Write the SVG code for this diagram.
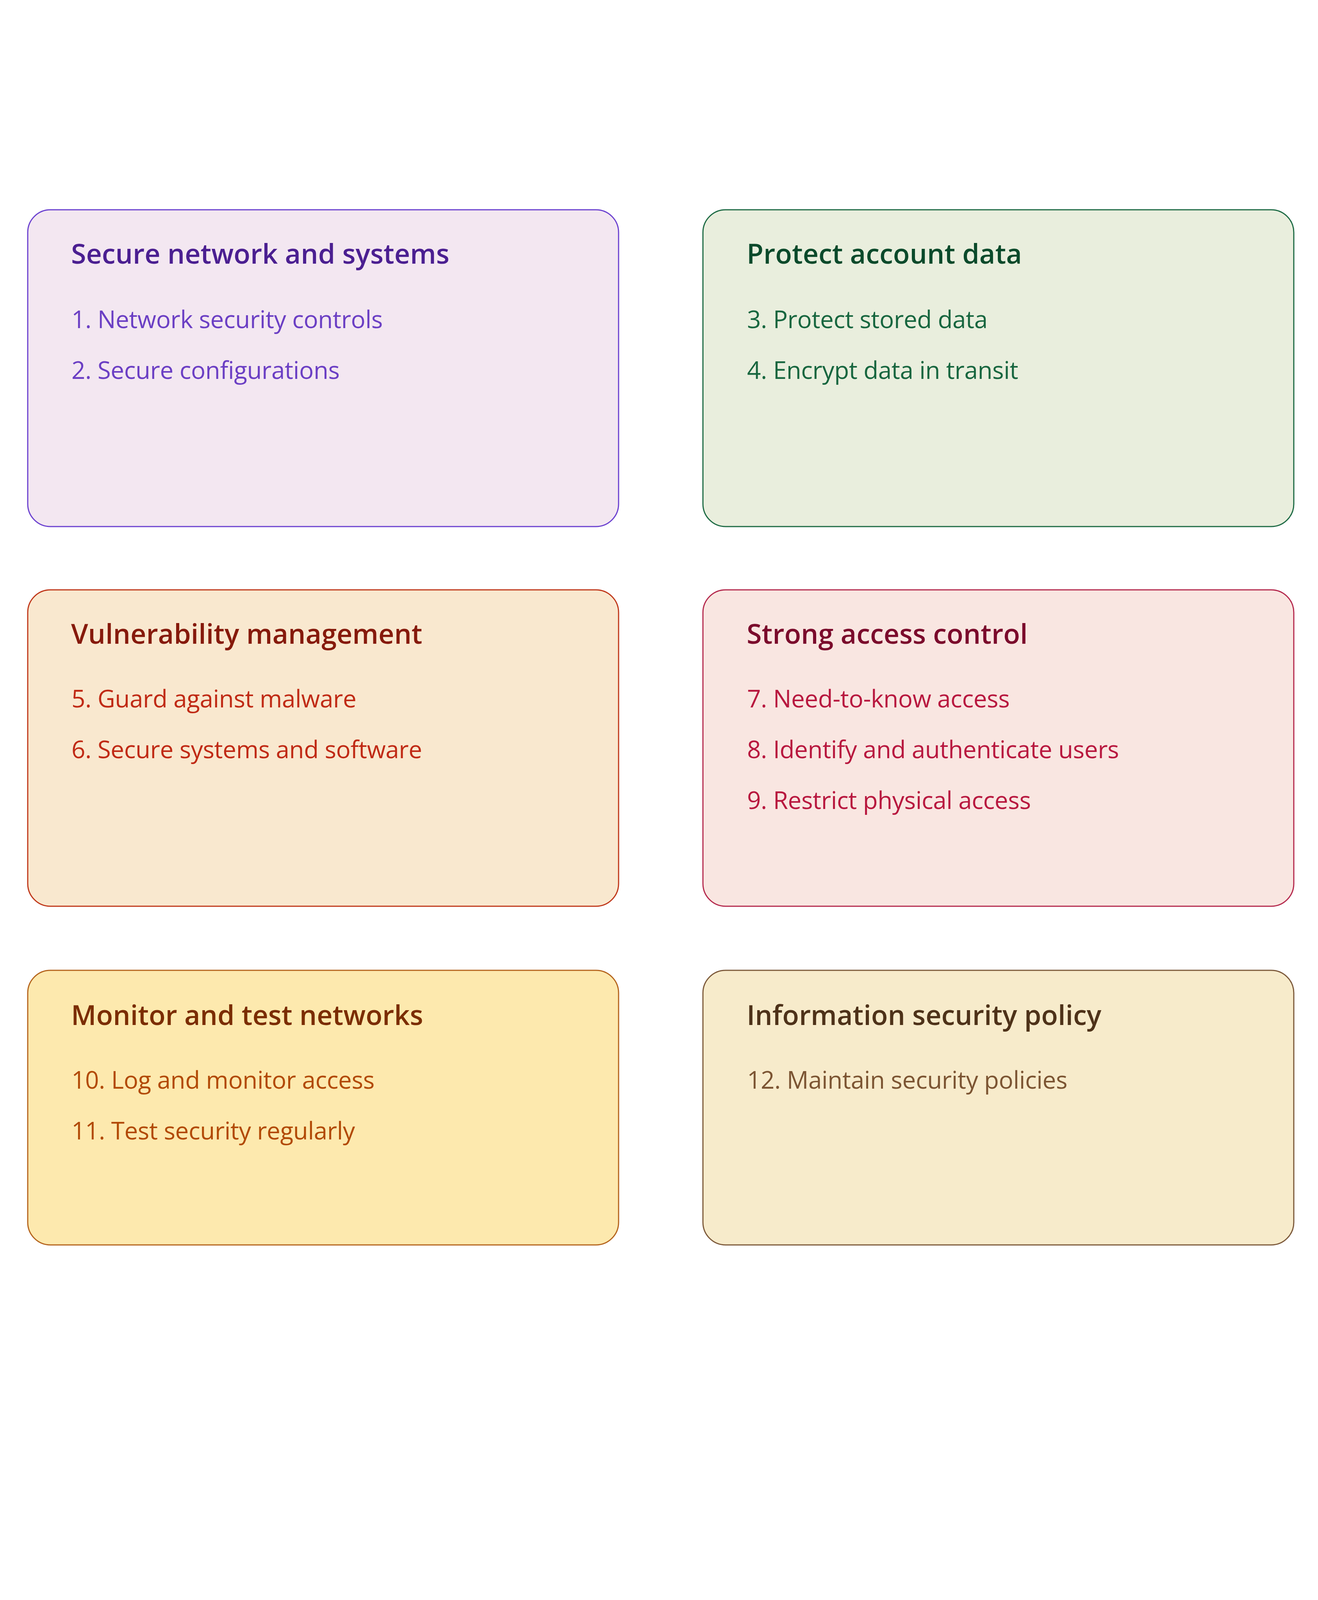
<svg xmlns="http://www.w3.org/2000/svg" width="3375" height="4219" viewBox="0 0 3375 4219">
<style>
.box{stroke-width:3}
.t{font-family:"Open Sans","Noto Sans","Liberation Sans",sans-serif;font-size:70px;font-weight:600}
.i{font-family:"Open Sans","Noto Sans","Liberation Sans",sans-serif;font-size:62px;font-weight:400;letter-spacing:-0.4px}
</style>
<rect x="0" y="0" width="3375" height="4219" fill="#ffffff"/>
<g id="connectors"></g>
<g id="secure-network">
<rect class="box" x="71" y="537" width="1513" height="811" rx="58" fill="#f3e7f1" stroke="#6c42d0"/>
<text class="t" x="182" y="675" fill="#4b1f91">Secure network and systems</text>
<text class="i" x="183" y="840" fill="#6b3fc4">1. Network security controls</text>
<text class="i" x="183" y="970" fill="#6b3fc4">2. Secure configurations</text>
</g>
<g id="protect-data">
<rect class="box" x="1800" y="537" width="1513" height="811" rx="58" fill="#e9eedd" stroke="#1e6b45"/>
<text class="t" x="1912" y="675" fill="#0b4a2b">Protect account data</text>
<text class="i" x="1913" y="840" fill="#17663f">3. Protect stored data</text>
<text class="i" x="1913" y="970" fill="#17663f">4. Encrypt data in transit</text>
</g>
<g id="vulnerability">
<rect class="box" x="71" y="1510" width="1513" height="810" rx="58" fill="#f9e8cf" stroke="#c0381b"/>
<text class="t" x="182" y="1648" fill="#861a0c">Vulnerability management</text>
<text class="i" x="183" y="1811" fill="#c02a15">5. Guard against malware</text>
<text class="i" x="183" y="1941" fill="#c02a15">6. Secure systems and software</text>
</g>
<g id="access-control">
<rect class="box" x="1800" y="1510" width="1513" height="810" rx="58" fill="#f9e6e1" stroke="#b52a4e"/>
<text class="t" x="1912" y="1648" fill="#7b0b2c">Strong access control</text>
<text class="i" x="1913" y="1811" fill="#b8183f">7. Need-to-know access</text>
<text class="i" x="1913" y="1941" fill="#b8183f">8. Identify and authenticate users</text>
<text class="i" x="1913" y="2071" fill="#b8183f">9. Restrict physical access</text>
</g>
<g id="monitor-test">
<rect class="box" x="71" y="2484" width="1513" height="703" rx="58" fill="#fde9ae" stroke="#b5651e"/>
<text class="t" x="182" y="2624" fill="#7b2d02">Monitor and test networks</text>
<text class="i" x="183" y="2787" fill="#b24a06">10. Log and monitor access</text>
<text class="i" x="183" y="2917" fill="#b24a06">11. Test security regularly</text>
</g>
<g id="security-policy">
<rect class="box" x="1800" y="2484" width="1513" height="703" rx="58" fill="#f7ebcb" stroke="#7d5a3b"/>
<text class="t" x="1912" y="2624" fill="#4e3219">Information security policy</text>
<text class="i" x="1913" y="2787" fill="#7c5533">12. Maintain security policies</text>
</g>
</svg>
